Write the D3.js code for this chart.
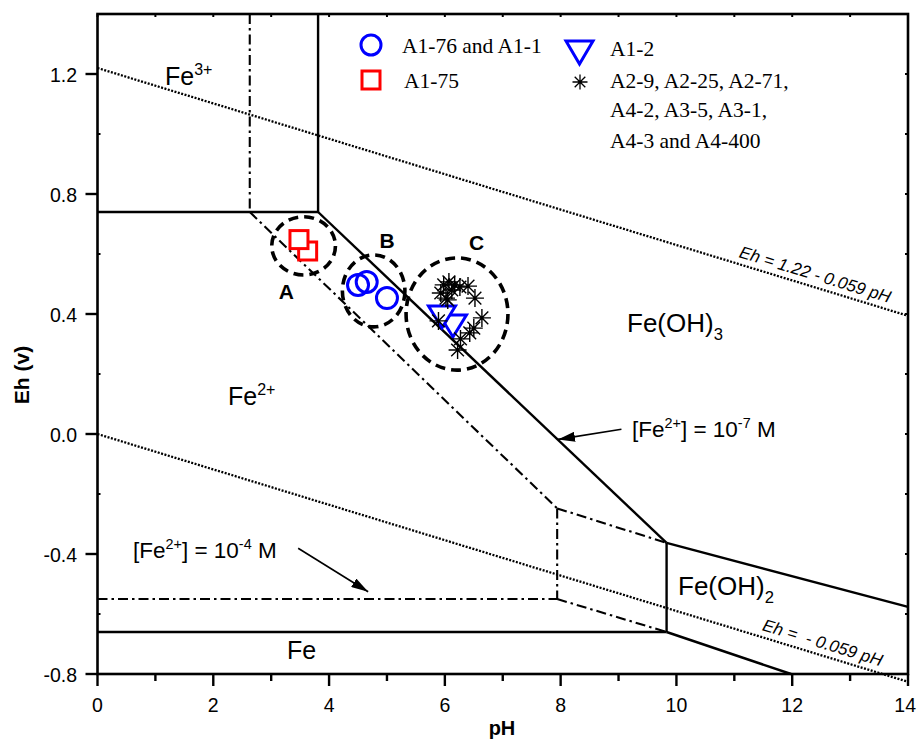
<!DOCTYPE html>
<html>
<head>
<meta charset="utf-8">
<script src="https://cdn.jsdelivr.net/npm/d3@7"></script>
<style>
  html, body { margin: 0; padding: 0; background: #fff; }
  svg { display: block; }
  text { font-family: "Liberation Sans", Arial, sans-serif; fill: #000; }
</style>
</head>
<body>
<svg id="chart" width="917" height="739"></svg>
<script>
// ---------------- data ----------------
const xTicks = [0, 2, 4, 6, 8, 10, 12, 14];
const yTicks = [-0.8, -0.4, 0.0, 0.4, 0.8, 1.2];
const yTickLabels = ["-0.8", "-0.4", "0.0", "0.4", "0.8", "1.2"];

// water stability lines (dotted)
const waterUpper = [[0, 1.22], [14, 1.22 - 0.059 * 14]];
const waterLower = [[0, 0], [14, -0.059 * 14]];

// [Fe2+] = 1e-7 M boundaries (solid)
const solidLines = [
  [[0, 0.74], [3.81, 0.74]],
  [[3.81, 1.4], [3.81, 0.74]],
  [[3.81, 0.74], [9.83, -0.363]],
  [[9.83, -0.363], [14, -0.576]],
  [[9.83, -0.363], [9.83, -0.66]],
  [[0, -0.66], [9.83, -0.66]],
  [[9.83, -0.66], [11.98, -0.8]]
];

// [Fe2+] = 1e-4 M boundaries (dash-dot)
const dashDotLines = [
  [[2.63, 1.4], [2.63, 0.74]],
  [[2.63, 0.74], [7.94, -0.248]],
  [[7.94, -0.248], [9.83, -0.363]],
  [[7.94, -0.248], [7.94, -0.55]],
  [[0, -0.55], [7.94, -0.55]],
  [[7.94, -0.55], [9.83, -0.66]]
];

// grouping ellipses
const groupNames = ["A", "B", "C"];
const groupCenters = [[3.56, 0.627], [4.77, 0.477], [6.21, 0.40]];
const groupRadii = [[0.55, 0.097], [0.54, 0.12], [0.88, 0.187]];
const groupLabelPos = [[3.26, 0.45], [5.0, 0.62], [6.55, 0.615]];

// samples
const sqPts = [[3.63, 0.61], [3.48, 0.648]];                 // A1-75
const circPts = [[4.50, 0.497], [4.65, 0.507], [5.0, 0.453]]; // A1-76 and A1-1
const triPts = [[6.14, 0.36], [5.95, 0.39]];                 // A1-2
const starPts = [
  [6.07, 0.507], [6.17, 0.497], [5.93, 0.47], [6.02, 0.453], [6.12, 0.48],
  [6.40, 0.493], [6.52, 0.453], [6.64, 0.387], [6.50, 0.353], [6.43, 0.337],
  [6.27, 0.317], [5.89, 0.377], [6.22, 0.28], [5.98, 0.497], [6.05, 0.447],
  [6.26, 0.49]
];

// ---------------- layout ----------------
const svg = d3.select("#chart");
const L = 97.5, R = 908, T = 14, B = 674;
const x = d3.scaleLinear().domain([0, 14]).range([L, R]);
const y = d3.scaleLinear().domain([-0.8, 1.4]).range([B, T]);
const line = d3.line().x(d => x(d[0])).y(d => y(d[1]));

svg.append("defs").append("marker")
  .attr("id", "ah").attr("markerUnits", "userSpaceOnUse")
  .attr("markerWidth", 18).attr("markerHeight", 10)
  .attr("refX", 17).attr("refY", 5).attr("orient", "auto")
  .append("path").attr("d", "M0,0 L17,5 L0,10 Z").attr("fill", "#000");

[waterUpper, waterLower].forEach(l => {
  svg.append("path").attr("d", line(l)).attr("fill", "none")
    .attr("stroke", "#000").attr("stroke-width", 2.3).attr("stroke-dasharray", "2,1.5");
});

dashDotLines.forEach(l => {
  svg.append("path").attr("d", line(l)).attr("fill", "none")
    .attr("stroke", "#000").attr("stroke-width", 2.1).attr("stroke-dasharray", "10,4,2.5,4");
});

solidLines.forEach(l => {
  svg.append("path").attr("d", line(l)).attr("fill", "none")
    .attr("stroke", "#000").attr("stroke-width", 2.4);
});

groupCenters.forEach((c, i) => {
  const rx = x(c[0] + groupRadii[i][0]) - x(c[0]);
  const ry = y(c[1]) - y(c[1] + groupRadii[i][1]);
  svg.append("ellipse").attr("cx", x(c[0])).attr("cy", y(c[1]))
    .attr("rx", rx).attr("ry", ry).attr("fill", "none")
    .attr("stroke", "#000").attr("stroke-width", 3.6).attr("stroke-dasharray", "10,6");
  svg.append("text").attr("x", x(groupLabelPos[i][0])).attr("y", y(groupLabelPos[i][1]))
    .attr("text-anchor", "middle").attr("font-size", 21).attr("font-weight", "bold")
    .text(groupNames[i]);
});

const BLUE = "#0000ff", RED = "#ff0000";
function starPath(cx, cy, r) {
  let d = "";
  for (let k = 0; k < 4; k++) {
    const a = k * Math.PI / 4;
    d += `M${cx + r * Math.cos(a)},${cy + r * Math.sin(a)}L${cx - r * Math.cos(a)},${cy - r * Math.sin(a)}`;
  }
  return d;
}
function triPath(cx, cy, w, h) {
  return `M${cx - w / 2},${cy - h / 2}L${cx + w / 2},${cy - h / 2}L${cx},${cy + h / 2}Z`;
}

sqPts.forEach(p => {
  svg.append("rect").attr("x", x(p[0]) - 9).attr("y", y(p[1]) - 9)
    .attr("width", 18).attr("height", 18).attr("fill", "#fff")
    .attr("stroke", RED).attr("stroke-width", 3);
});
circPts.forEach(p => {
  svg.append("circle").attr("cx", x(p[0])).attr("cy", y(p[1])).attr("r", 10.5)
    .attr("fill", "none").attr("stroke", BLUE).attr("stroke-width", 3);
});
triPts.forEach(p => {
  svg.append("path").attr("d", triPath(x(p[0]), y(p[1]), 27, 22))
    .attr("fill", "#fff").attr("stroke", BLUE).attr("stroke-width", 3);
});
starPts.forEach(p => {
  svg.append("path").attr("d", starPath(x(p[0]), y(p[1]), 9))
    .attr("fill", "none").attr("stroke", "#000").attr("stroke-width", 1.4);
});

// ---------------- axes / frame ----------------
svg.append("rect").attr("x", L).attr("y", T).attr("width", R - L).attr("height", B - T)
  .attr("fill", "none").attr("stroke", "#000").attr("stroke-width", 2.6);

const gx = svg.append("g");
d3.range(0, 15, 1).forEach(v => {
  const major = v % 2 === 0;
  gx.append("line").attr("x1", x(v)).attr("x2", x(v)).attr("y1", B).attr("y2", B + (major ? 12 : 7))
    .attr("stroke", "#000").attr("stroke-width", 2.4);
  gx.append("line").attr("x1", x(v)).attr("x2", x(v)).attr("y1", T).attr("y2", T + 3)
    .attr("stroke", "#000").attr("stroke-width", 2);
});
xTicks.forEach(v => {
  gx.append("text").attr("x", v === 14 ? 916 : x(v)).attr("y", 712)
    .attr("text-anchor", v === 14 ? "end" : "middle")
    .attr("font-size", 19.5).text(v);
});

const gy = svg.append("g");
d3.range(-0.8, 1.41, 0.2).forEach(v => {
  const major = Math.abs(Math.round(v * 10) % 4) === 0;
  if (major) {
    gy.append("line").attr("x1", L - 12).attr("x2", L).attr("y1", y(v)).attr("y2", y(v))
      .attr("stroke", "#000").attr("stroke-width", 2.4);
  } else {
    gy.append("line").attr("x1", L).attr("x2", L + 3).attr("y1", y(v)).attr("y2", y(v))
      .attr("stroke", "#000").attr("stroke-width", 2);
  }
  gy.append("line").attr("x1", R - 3).attr("x2", R).attr("y1", y(v)).attr("y2", y(v))
    .attr("stroke", "#000").attr("stroke-width", 2);
});
yTicks.forEach((v, i) => {
  gy.append("text").attr("x", 77).attr("y", y(v) + 7.5).attr("text-anchor", "end")
    .attr("font-size", 19.5).text(yTickLabels[i]);
});

svg.append("text").attr("transform", "translate(29,375) rotate(-90)")
  .attr("text-anchor", "middle").attr("font-size", 21).attr("font-weight", "bold").text("Eh (v)");
svg.append("text").attr("x", 502).attr("y", 735).attr("text-anchor", "middle")
  .attr("font-size", 20).attr("font-weight", "bold").text("pH");

// ---------------- rich text labels ----------------
function rich(px, py, parts, fs) {
  const t = svg.append("text").attr("x", px).attr("y", py).attr("font-size", fs);
  let cur = 0;
  parts.forEach(p => {
    const s = typeof p === "string" ? { t: p } : p;
    const target = s.sup ? -0.42 * fs : s.sub ? 0.32 * fs : 0;
    t.append("tspan").attr("dy", target - cur)
      .attr("font-size", (s.sup || s.sub) ? fs * 0.64 : fs)
      .text(s.t);
    cur = target;
  });
  return t;
}
rich(165, 85, ["Fe", { t: "3+", sup: true }], 25);
rich(228, 405, ["Fe", { t: "2+", sup: true }], 25);
rich(627, 332, ["Fe(OH)", { t: "3", sub: true }], 26);
rich(678, 595, ["Fe(OH)", { t: "2", sub: true }], 26);
rich(287, 659, ["Fe"], 25);
rich(632, 437, ["[Fe", { t: "2+", sup: true }, "] = 10", { t: "-7", sup: true }, " M"], 22.5);
rich(133, 558, ["[Fe", { t: "2+", sup: true }, "] = 10", { t: "-4", sup: true }, " M"], 22.5);

const arrows = [
  [[9.05, 0.016], [7.955, -0.018]],
  [[3.466, -0.381], [4.675, -0.526]]
];
arrows.forEach(a => {
  svg.append("line").attr("x1", x(a[0][0])).attr("y1", y(a[0][1]))
    .attr("x2", x(a[1][0])).attr("y2", y(a[1][1]))
    .attr("stroke", "#000").attr("stroke-width", 1.6).attr("marker-end", "url(#ah)");
});

const ang = Math.atan(0.059 * (y(0) - y(1)) / (x(1) - x(0))) * 180 / Math.PI;
function eqLabel(ph, eh, txt) {
  svg.append("text")
    .attr("transform", `translate(${x(ph)},${y(eh) - 7}) rotate(${ang})`)
    .attr("font-size", 17).attr("font-style", "italic")
    .style("white-space", "pre").text(txt);
}
eqLabel(11.07, 1.22 - 0.059 * 11.07, "Eh = 1.22 - 0.059 pH");
eqLabel(11.47, -0.059 * 11.47, "Eh =  - 0.059 pH");

// ---------------- legend ----------------
const lg = svg.append("g");
function legText(px, py, s) {
  lg.append("text").attr("x", px).attr("y", py).attr("font-size", 21.5)
    .style("font-family", "'Liberation Serif', 'Times New Roman', serif").text(s);
}
lg.append("circle").attr("cx", 371).attr("cy", 45).attr("r", 10).attr("fill", "none")
  .attr("stroke", BLUE).attr("stroke-width", 3);
legText(402, 53, "A1-76 and A1-1");
lg.append("rect").attr("x", 362).attr("y", 71).attr("width", 18).attr("height", 18)
  .attr("fill", "none").attr("stroke", RED).attr("stroke-width", 3);
legText(404, 88, "A1-75");
lg.append("path").attr("d", triPath(579.5, 52.5, 27, 23)).attr("fill", "none")
  .attr("stroke", BLUE).attr("stroke-width", 3);
legText(610, 56, "A1-2");
lg.append("path").attr("d", starPath(580, 82, 7.5)).attr("fill", "none")
  .attr("stroke", "#000").attr("stroke-width", 1.3);
legText(610, 88, "A2-9, A2-25, A2-71,");
legText(610, 117, "A4-2, A3-5, A3-1,");
legText(610, 148, "A4-3 and A4-400");
</script>
</body>
</html>
